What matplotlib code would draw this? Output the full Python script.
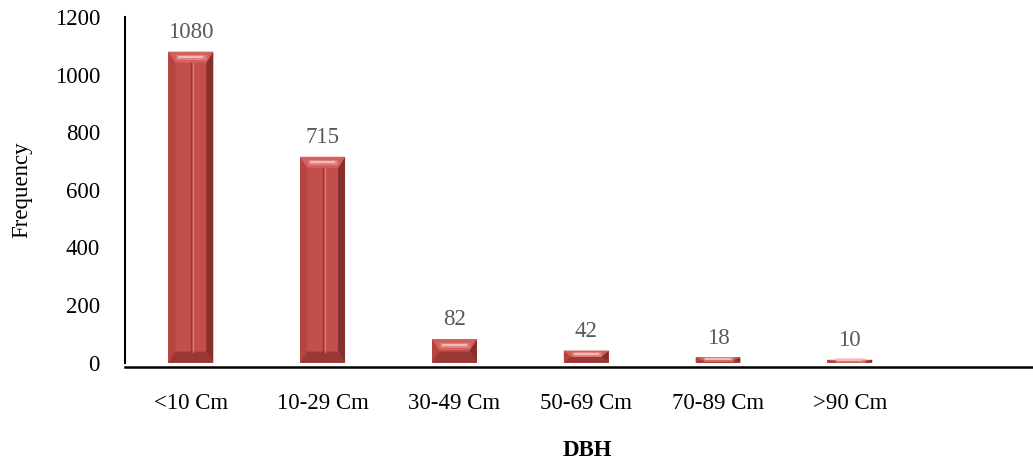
"""
DBH class frequency bar chart with bevelled bars
"""
import matplotlib
matplotlib.use("Agg")
import matplotlib.pyplot as plt
from matplotlib.patches import Polygon

plt.rcParams["font.family"] = ["Liberation Serif", "DejaVu Serif"]

categories = ["<10 Cm", "10-29 Cm", "30-49 Cm", "50-69 Cm", "70-89 Cm", ">90 Cm"]
frequency = [1080, 715, 82, 42, 18, 10]
y_ticks = [0, 200, 400, 600, 800, 1000, 1200]

FACE = "#c24f4c"
TOP = "#d1625e"
SHINE = "#f0a09b"
LEFT = "#b5443f"
RIGHT = "#86302e"
BOTTOM = "#9a3836"


def add_bevel(ax, bar, px_x, px_y):
    """Draw a simple bevel frame on top of a bar patch."""
    x0 = bar.get_x()
    x1 = x0 + bar.get_width()
    h = bar.get_height()
    bx = px_x
    by = min(px_y, h / 2)
    sides = [
        ([(x0, 0), (x0 + bx, by), (x0 + bx, h - by), (x0, h)], LEFT),
        ([(x1, 0), (x1 - bx, by), (x1 - bx, h - by), (x1, h)], RIGHT),
        ([(x0, 0), (x1, 0), (x1 - bx, by), (x0 + bx, by)], BOTTOM),
        ([(x0, h), (x1, h), (x1 - bx, h - by), (x0 + bx, h - by)], TOP),
    ]
    for pts, col in sides:
        ax.add_patch(Polygon(pts, closed=True, facecolor=col, edgecolor="none", zorder=3))
    # soft light streak across the upper bevel
    ym = h - by * 0.5
    ax.plot([x0 + bx * 1.1, x1 - bx * 1.1], [ym, ym], color=SHINE, lw=3.5,
            alpha=0.55, solid_capstyle="butt", zorder=4)
    ax.plot([x0 + bx * 1.4, x1 - bx * 1.4], [ym, ym], color="#f7bcb7", lw=1.4,
            solid_capstyle="butt", zorder=4)
    # thin groove down the middle of the face
    if h - 2 * by > 3 * by:
        xc = (x0 + x1) / 2
        ax.plot([xc, xc], [by, h - by], color="#9c3735", lw=1.0, zorder=4)
        ax.plot([xc + bx * 0.3, xc + bx * 0.3], [by, h - by], color="#d97a76",
                lw=0.9, zorder=4)


fig = plt.figure(figsize=(10.33, 4.59), dpi=100)
ax = fig.add_axes([0.121, 0.210, 0.879, 0.7527])

x = range(len(categories))
bars = ax.bar(x, frequency, width=0.34, color=FACE, zorder=2)

ax.set_xlim(-0.5, 6.39)
ax.set_ylim(0, 1200)
ax.set_yticks(y_ticks)
ax.set_xticks(list(x))
ax.set_xticklabels(categories)

# bevel size in data units (about 7 px across, 11 px high)
px_x = 7 / 131.8
px_y = 11 * 1200 / 345.5
for b in bars:
    add_bevel(ax, b, px_x, px_y)

for b, v in zip(bars, frequency):
    ax.annotate(str(v), (b.get_x() + b.get_width() / 2, v), xytext=(0, 10),
                textcoords="offset points", ha="center", va="baseline",
                fontsize=16.5, color="#595959")

for side in ("top", "right"):
    ax.spines[side].set_visible(False)
ax.spines["left"].set_linewidth(1.5)
ax.spines["bottom"].set_linewidth(1.8)
ax.spines["bottom"].set_position(("outward", 3))
ax.tick_params(axis="both", length=0, labelsize=16.5, colors="black")
ax.tick_params(axis="y", pad=18)
ax.tick_params(axis="x", pad=19)

fig.text(22 / 1033, 1 - 190 / 459, "Frequency", rotation=90, ha="center",
         va="center", fontsize=16.5)
fig.text(587 / 1033, 1 - 450 / 459, "DBH", ha="center", va="center",
         fontsize=16.5, fontweight="bold")

fig.savefig("out.png", dpi=100)
plt.close(fig)
